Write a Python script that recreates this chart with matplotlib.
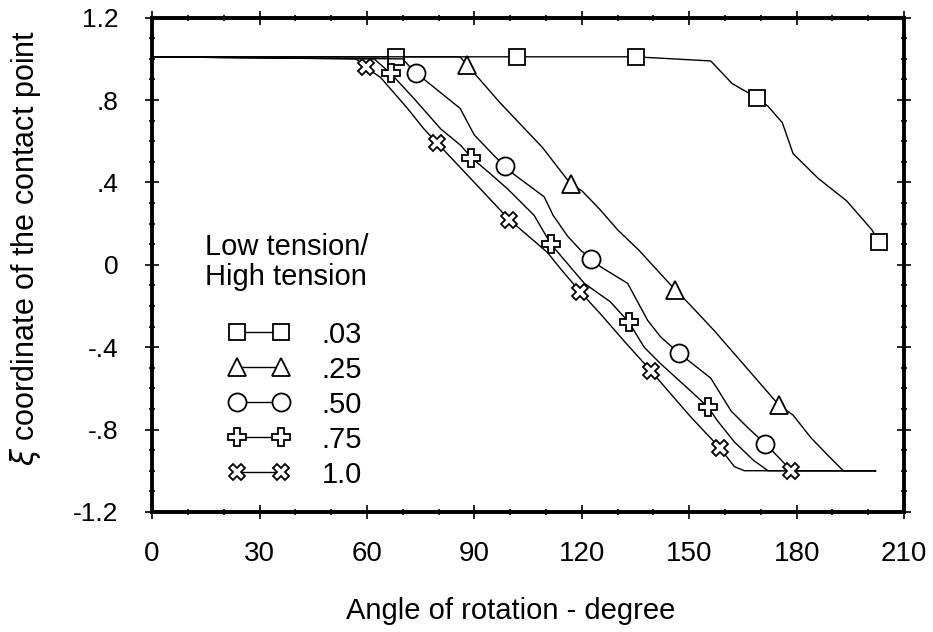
import matplotlib
matplotlib.use('Agg')
import matplotlib.pyplot as plt
from matplotlib.lines import Line2D
from matplotlib.legend_handler import HandlerLine2D
from matplotlib.ticker import MultipleLocator

plt.rcParams['font.family'] = ['Liberation Sans', 'DejaVu Sans']

# tension ratio .03 (squares)
sq_x = [0, 68, 102, 135, 156, 162, 169, 172, 176, 179, 186, 194, 201, 203]
sq_y = [1.01, 1.01, 1.01, 1.01, 0.99, 0.88, 0.81, 0.77, 0.69, 0.54, 0.42, 0.31, 0.17, 0.11]
sq_marks = [1, 2, 3, 6, 13]

# .25 (triangles)
tri_x = [0, 86, 88, 97, 109, 117, 120, 125, 130, 136, 146, 150, 157, 163, 168, 172, 175,
         179, 184, 189, 193, 202]
tri_y = [1.01, 1.01, 0.97, 0.79, 0.57, 0.39, 0.36, 0.27, 0.17, 0.07, -0.12, -0.19, -0.32,
         -0.44, -0.54, -0.62, -0.68, -0.73, -0.84, -0.93, -1.0, -1.0]
tri_marks = [2, 5, 10, 16]

# .50 (circles)
cir_x = [0, 70, 73.6, 76, 86, 90, 95.5, 98.5, 101, 109.5, 112, 116, 119.7, 122.7, 125.3,
         132.8, 138.4, 142, 147.2, 156, 161.7, 166.3, 171.3, 174.7, 178.5, 202]
cir_y = [1.01, 1.0, 0.93, 0.90, 0.76, 0.63, 0.53, 0.48, 0.44, 0.33, 0.24, 0.14, 0.07, 0.03,
         -0.01, -0.09, -0.27, -0.35, -0.43, -0.55, -0.71, -0.79, -0.87, -0.93, -1.0, -1.0]
cir_marks = [2, 7, 13, 18, 22]

# .75 (plus)
pl_x = [0, 62, 66.6, 73, 80.6, 86.2, 89.2, 94.6, 99.2, 106.7, 111.4, 120.7, 128, 133.2,
        137.4, 142, 149.6, 155.2, 158, 162.6, 168, 172, 202]
pl_y = [1.01, 1.0, 0.93, 0.81, 0.66, 0.58, 0.52, 0.44, 0.37, 0.24, 0.10, -0.09, -0.18, -0.28,
        -0.40, -0.48, -0.60, -0.69, -0.76, -0.86, -0.95, -1.0, -1.0]
pl_marks = [2, 6, 10, 13, 17]

# 1.0 (x)
xx_x = [0, 57, 59.6, 63.8, 71.3, 75.9, 79.7, 86.2, 92.7, 99.7, 110.4, 114.1, 119.5, 125.3,
        131.8, 139.3, 144, 150.5, 158.6, 162.6, 165.4, 178.5, 202]
xx_y = [1.01, 1.0, 0.96, 0.91, 0.76, 0.66, 0.59, 0.47, 0.35, 0.22, 0.06, -0.02, -0.13, -0.24,
        -0.37, -0.515, -0.61, -0.74, -0.89, -0.98, -1.0, -1.0, -1.0]
xx_marks = [2, 6, 9, 12, 15, 18, 21]

series = [
    ('.03', sq_x, sq_y, sq_marks, 's', 11),
    ('.25', tri_x, tri_y, tri_marks, '^', 13),
    ('.50', cir_x, cir_y, cir_marks, 'o', 13),
    ('.75', pl_x, pl_y, pl_marks, 'P', 13),
    ('1.0', xx_x, xx_y, xx_marks, 'X', 12),
]

yticks = [-1.2, -0.8, -0.4, 0, 0.4, 0.8, 1.2]
ytick_labels = ['-1.2', '-.8', '-.4', '0', '.4', '.8', '1.2']
xticks = [0, 30, 60, 90, 120, 150, 180, 210]

fig = plt.figure(figsize=(9.33, 6.32), dpi=100)
ax = fig.add_axes([0.163, 0.19, 0.806, 0.782])

for lab, x, y, marks, m, ms in series:
    ax.plot(x, y, color='black', lw=1.0, marker=m, markevery=marks, ms=ms,
            mfc='white', mec='black', mew=1.3, label=lab)

ax.set_xlim(0, 210)
ax.set_ylim(-1.2, 1.2)
ax.set_xticks(xticks)
ax.set_yticks(yticks)
ax.set_yticklabels(ytick_labels)
ax.xaxis.set_minor_locator(MultipleLocator(10))
ax.yaxis.set_minor_locator(MultipleLocator(0.1))

ax.tick_params(which='major', direction='inout', length=10, width=1.2,
               top=True, right=True, color='black')
ax.tick_params(which='minor', direction='inout', length=4, width=1.2,
               top=True, right=True)
ax.tick_params(axis='y', which='major', pad=19, labelsize=19)
ax.tick_params(axis='x', which='major', pad=16, labelsize=20)
for sp in ax.spines.values():
    sp.set_linewidth(2.8)

ax.set_xlabel('Angle of rotation - degree', fontsize=21)
ax.xaxis.set_label_coords(0.477, -0.172)
ax.set_ylabel(r'$\xi$ coordinate of the contact point', fontsize=22)
ax.yaxis.set_label_coords(-0.145, 0.535)

# legend title drawn as plain text, entries below it
ax.text(0.071, 0.565, 'Low tension/\nHigh tension', transform=ax.transAxes,
        ha='left', va='top', fontsize=21, linespacing=1.1)
leg = ax.legend(loc='upper left', bbox_to_anchor=(0.078, 0.387), frameon=False,
                fontsize=21, handlelength=3.3, handletextpad=0.5, labelspacing=0.24,
                borderpad=0, borderaxespad=0, numpoints=2,
                handler_map={Line2D: HandlerLine2D(marker_pad=0.9)})

fig.savefig('out.png', dpi=100, facecolor='white')
